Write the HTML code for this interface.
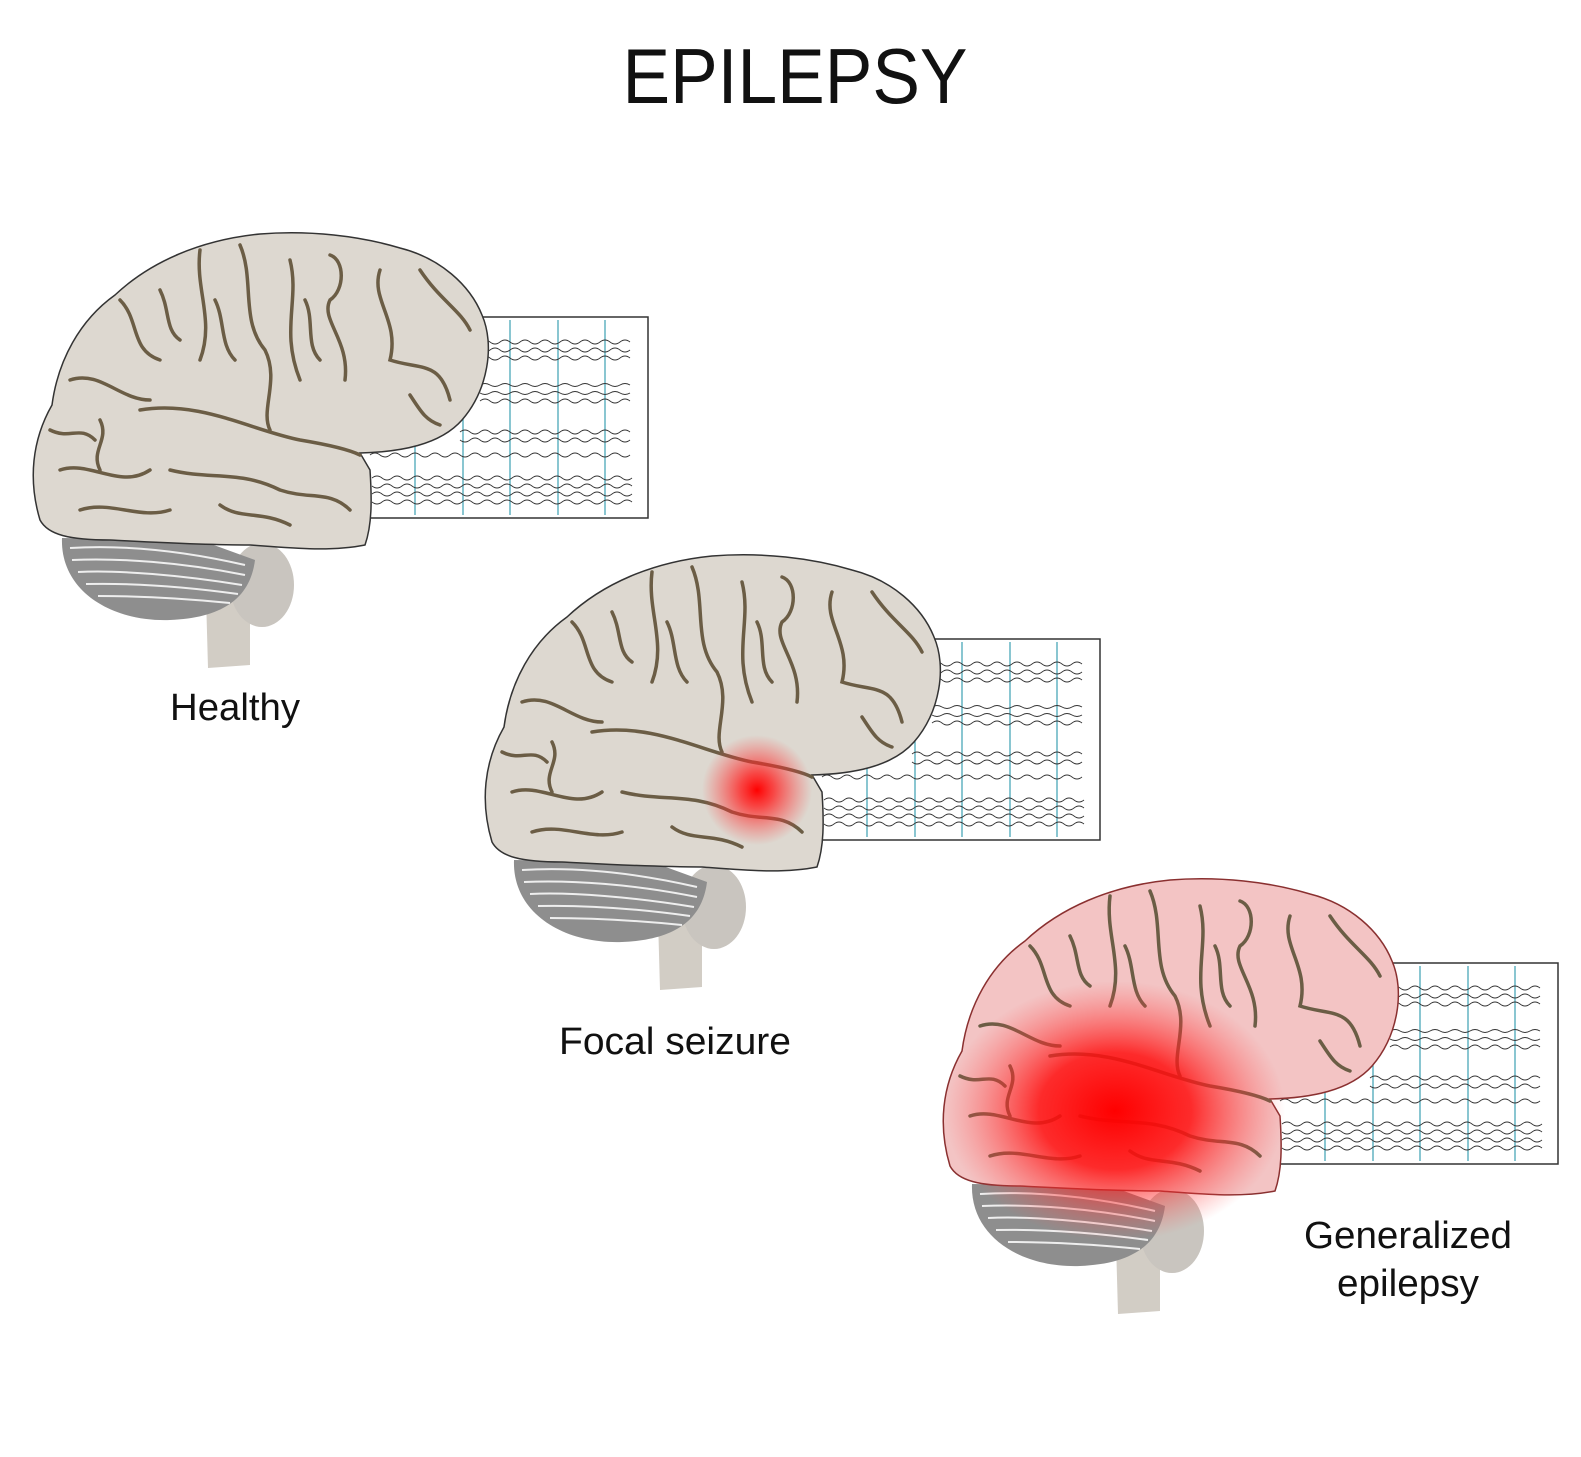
<!DOCTYPE html>
<html><head><meta charset="utf-8"><style>
html,body{margin:0;padding:0;background:#fff;width:1581px;height:1457px;overflow:hidden}
svg{display:block}
text{font-family:"Liberation Sans",Arial,sans-serif;fill:#111}
</style></head><body>
<svg width="1581" height="1457" viewBox="0 0 1581 1457" xmlns="http://www.w3.org/2000/svg">
<defs>
<radialGradient id="spot1"><stop offset="0" stop-color="#ff0000" stop-opacity="1"/><stop offset="0.3" stop-color="#ff2020" stop-opacity="0.8"/><stop offset="1" stop-color="#ff4040" stop-opacity="0"/></radialGradient>
<radialGradient id="spot2"><stop offset="0" stop-color="#ff0000" stop-opacity="1"/><stop offset="0.45" stop-color="#ff1010" stop-opacity="0.85"/><stop offset="1" stop-color="#ff5050" stop-opacity="0"/></radialGradient>
<g id="eeg">
 <rect x="355" y="317" width="293" height="201" fill="#fff" stroke="#333" stroke-width="1.5"/>
 <g stroke="#4aa8b8" stroke-width="1.3">
  <line x1="415" y1="320" x2="415" y2="515"/><line x1="463" y1="320" x2="463" y2="515"/><line x1="510" y1="320" x2="510" y2="515"/><line x1="558" y1="320" x2="558" y2="515"/><line x1="605" y1="320" x2="605" y2="515"/>
 </g>
 <g fill="none" stroke="#333" stroke-width="0.9">
  <path d="M480 342 q5-4 10 0 t10 0 t10 0 t10 0 t10 0 t10 0 t10 0 t10 0 t10 0 t10 0 t10 0 t10 0 t10 0 t10 0 t10 0"/>
  <path d="M480 350 q5 4 10 0 t10 0 t10 0 t10 0 t10 0 t10 0 t10 0 t10 0 t10 0 t10 0 t10 0 t10 0 t10 0 t10 0 t10 0"/>
  <path d="M480 358 q5-4 10 0 t10 0 t10 0 t10 0 t10 0 t10 0 t10 0 t10 0 t10 0 t10 0 t10 0 t10 0 t10 0 t10 0 t10 0"/>
  <path d="M480 385 q5-3 10 0 t10 0 t10 0 t10 0 t10 0 t10 0 t10 0 t10 0 t10 0 t10 0 t10 0 t10 0 t10 0 t10 0 t10 0"/>
  <path d="M480 393 q5 3 10 0 t10 0 t10 0 t10 0 t10 0 t10 0 t10 0 t10 0 t10 0 t10 0 t10 0 t10 0 t10 0 t10 0 t10 0"/>
  <path d="M480 401 q5-4 10 0 t10 0 t10 0 t10 0 t10 0 t10 0 t10 0 t10 0 t10 0 t10 0 t10 0 t10 0 t10 0 t10 0 t10 0"/>
  <path d="M460 432 q5-4 10 0 t10 0 t10 0 t10 0 t10 0 t10 0 t10 0 t10 0 t10 0 t10 0 t10 0 t10 0 t10 0 t10 0 t10 0 t10 0 t10 0"/>
  <path d="M460 440 q5 4 10 0 t10 0 t10 0 t10 0 t10 0 t10 0 t10 0 t10 0 t10 0 t10 0 t10 0 t10 0 t10 0 t10 0 t10 0 t10 0 t10 0"/>
  <path d="M370 455 q5-4 10 0 t10 0 t10 0 t10 0 t10 0 t10 0 t10 0 t10 0 t10 0 t10 0 t10 0 t10 0 t10 0 t10 0 t10 0 t10 0 t10 0 t10 0 t10 0 t10 0 t10 0 t10 0 t10 0 t10 0 t10 0 t10 0"/>
  <path d="M372 478 q5-4 10 0 t10 0 t10 0 t10 0 t10 0 t10 0 t10 0 t10 0 t10 0 t10 0 t10 0 t10 0 t10 0 t10 0 t10 0 t10 0 t10 0 t10 0 t10 0 t10 0 t10 0 t10 0 t10 0 t10 0 t10 0 t10 0"/>
  <path d="M372 486 q5 4 10 0 t10 0 t10 0 t10 0 t10 0 t10 0 t10 0 t10 0 t10 0 t10 0 t10 0 t10 0 t10 0 t10 0 t10 0 t10 0 t10 0 t10 0 t10 0 t10 0 t10 0 t10 0 t10 0 t10 0 t10 0 t10 0"/>
  <path d="M372 494 q5-4 10 0 t10 0 t10 0 t10 0 t10 0 t10 0 t10 0 t10 0 t10 0 t10 0 t10 0 t10 0 t10 0 t10 0 t10 0 t10 0 t10 0 t10 0 t10 0 t10 0 t10 0 t10 0 t10 0 t10 0 t10 0 t10 0"/>
  <path d="M372 502 q5 4 10 0 t10 0 t10 0 t10 0 t10 0 t10 0 t10 0 t10 0 t10 0 t10 0 t10 0 t10 0 t10 0 t10 0 t10 0 t10 0 t10 0 t10 0 t10 0 t10 0 t10 0 t10 0 t10 0 t10 0 t10 0 t10 0"/>
 </g>
</g>
<g id="stem">
 <path d="M205 560 L250 560 L250 665 L208 668 Z" fill="#d2cdc5"/>
 <ellipse cx="262" cy="585" rx="32" ry="42" fill="#c9c5bf"/>
 <path d="M62 538 C60 590 110 622 170 620 C220 618 250 600 255 560 L200 540 Z" fill="#8e8e8e"/>
 <g fill="none" stroke="#eee" stroke-width="2">
  <path d="M70 548 C120 545 180 550 245 565"/><path d="M72 560 C120 558 180 562 245 575"/><path d="M78 572 C120 570 180 575 242 585"/><path d="M86 584 C130 583 180 586 238 594"/><path d="M98 596 C140 596 180 598 230 603"/>
 </g>
</g>
<path id="cortex" d="M40 520 C28 480 32 440 52 405 C58 360 80 320 115 295 C150 262 200 240 260 234 C310 230 360 236 400 248 C440 258 470 285 482 315 C495 345 488 390 462 420 C440 445 400 452 360 453 L370 470 C372 500 372 525 365 545 C330 552 290 548 250 545 C200 545 150 542 110 540 C70 540 48 535 40 520 Z"/>
<g id="gyri" fill="none" stroke="#6b5d45" stroke-width="3.5" stroke-linecap="round">
 <path d="M200 250 C195 290 215 320 200 360"/><path d="M240 245 C255 280 240 320 265 350 C280 380 260 410 270 430"/>
 <path d="M290 260 C300 300 280 330 300 380"/><path d="M330 255 C345 260 345 290 330 300 C320 320 350 340 345 380"/>
 <path d="M380 270 C370 300 400 320 390 360 C420 370 440 360 450 400"/><path d="M420 270 C440 300 460 310 470 330"/>
 <path d="M120 300 C140 320 130 350 160 360"/><path d="M70 380 C100 370 120 400 150 400"/>
 <path d="M140 410 C200 400 250 430 300 440 C330 445 350 450 360 455"/>
 <path d="M60 470 C90 460 120 490 150 470"/><path d="M170 470 C210 480 240 470 280 490 C310 500 330 490 350 510"/>
 <path d="M80 510 C110 500 140 520 170 510"/><path d="M220 505 C240 520 260 510 290 525"/>
 <path d="M160 290 C170 310 165 330 180 340"/><path d="M100 420 C110 440 90 450 100 470"/>
 <path d="M215 300 C225 320 220 345 235 360"/><path d="M305 300 C315 320 305 345 320 360"/>
 <path d="M410 395 C420 410 425 420 440 425"/><path d="M50 430 C70 440 80 425 95 440"/>
</g>
</defs>

<text x="795" y="103" font-size="78" text-anchor="middle" textLength="345" lengthAdjust="spacingAndGlyphs">EPILEPSY</text>

<g>
 <use href="#eeg"/><use href="#stem"/>
 <use href="#cortex" fill="#ddd8d0" stroke="#333" stroke-width="1.5"/>
 <use href="#gyri"/>
</g>
<text x="235" y="720" font-size="38" text-anchor="middle" textLength="130" lengthAdjust="spacingAndGlyphs">Healthy</text>

<g transform="translate(452,322)">
 <use href="#eeg"/><use href="#stem"/>
 <use href="#cortex" fill="#ddd8d0" stroke="#333" stroke-width="1.5"/>
 <use href="#gyri"/>
 <circle cx="305" cy="468" r="55" fill="url(#spot1)"/>
</g>
<text x="675" y="1054" font-size="38" text-anchor="middle" textLength="232" lengthAdjust="spacingAndGlyphs">Focal seizure</text>

<g transform="translate(910,646)">
 <use href="#eeg"/><use href="#stem"/>
 <use href="#cortex" fill="#f3c4c4" stroke="#8a3030" stroke-width="1.5"/>
 <use href="#gyri" stroke="#8a5a4a"/>
 <ellipse cx="205" cy="465" rx="170" ry="130" fill="url(#spot2)"/>
</g>
<text x="1408" y="1248" font-size="38" text-anchor="middle" textLength="208" lengthAdjust="spacingAndGlyphs">Generalized</text>
<text x="1408" y="1296" font-size="38" text-anchor="middle" textLength="142" lengthAdjust="spacingAndGlyphs">epilepsy</text>
</svg>
</body></html>
